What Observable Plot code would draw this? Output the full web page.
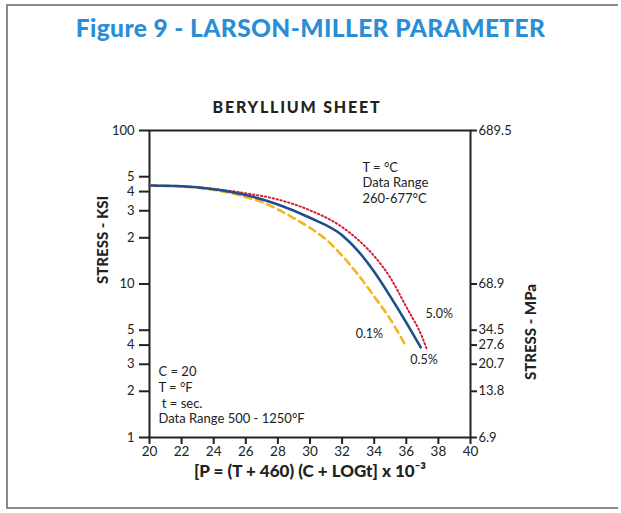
<!DOCTYPE html>
<html>
<head>
<meta charset="utf-8">
<script src="https://cdn.jsdelivr.net/npm/d3@7"></script>
<script src="https://cdn.jsdelivr.net/npm/@observablehq/plot@0.6"></script>
<style>
  body { margin: 0; background: #fff; }
  #wrap { position: relative; width: 621px; height: 513px; overflow: hidden; background: #fff; font-family: Lato, "Open Sans", sans-serif; }
  #border { position: absolute; left: 6px; top: 4px; width: 612px; height: 505px; border: 2px solid #8a8a8a; border-right: none; box-sizing: border-box; }
  #title { position: absolute; left: 0; width: 621px; top: 13px; text-align: center; color: #2a8ed6; font-weight: 900; font-size: 24.5px; letter-spacing: 0.4px; }
  #subtitle { position: absolute; left: 0; width: 594px; top: 97px; text-align: center; color: #222; font-weight: 900; font-size: 16px; letter-spacing: 1.8px; }
  #chart { position: absolute; left: 0; top: 0; }
</style>
</head>
<body>
<div id="wrap">
  <div id="border"></div>
  <div id="title">Figure 9 - LARSON-MILLER PARAMETER</div>
  <div id="subtitle">BERYLLIUM SHEET</div>
  <div id="chart"></div>
</div>
<script>
// Larson-Miller parameter P (x 10^-3) and stress (ksi)
const p01 = [20, 22, 24, 25, 26, 27, 28, 29, 30, 31, 32, 33, 34, 35, 35.95];
const s01 = [43.8, 43.2, 41.0, 39.3, 36.8, 34.2, 30.6, 26.8, 23.2, 19.5, 15.3, 11.5, 8.3, 5.9, 3.98];

const p05 = [20, 22, 24, 26, 28, 30, 32, 33, 34, 35, 36, 36.9];
const s05 = [43.8, 43.3, 41.4, 38.0, 33.0, 27.0, 20.8, 16.4, 12.0, 8.3, 5.6, 3.86];

const p50 = [20, 22, 24, 26, 28, 30, 32, 33, 34, 35, 36, 37, 37.3];
const s50 = [43.8, 43.3, 41.7, 39.0, 35.5, 30.2, 23.5, 19.4, 15.2, 11.0, 7.1, 4.48, 3.7];

const xTicks = [20, 22, 24, 26, 28, 30, 32, 34, 36, 38, 40];
const ksiTicks = [1, 2, 3, 4, 5, 10, 20, 30, 40, 50, 100];
const ksiLabels = ["1", "2", "3", "4", "5", "10", "2", "3", "4", "5", "100"];
const mpaTicks = [1, 2, 3, 4, 5, 10, 100];
const mpaLabels = ["6.9", "13.8", "20.7", "27.6", "34.5", "68.9", "689.5"];

const noteC = "T = °C\nData Range\n260-677°C";
const noteF = "C = 20\nT = °F\n t = sec.\nData Range 500 - 1250°F";
const curveLabels = ["5.0%", "0.1%", "0.5%"];

const series = (p, s) => p.map((v, i) => ({p: v, s: s[i]}));
const d01 = series(p01, s01), d05 = series(p05, s05), d50 = series(p50, s50);

const ink = "#222";
const font = "Lato, 'Open Sans', sans-serif";

const chart = Plot.plot({
  width: 621,
  height: 513,
  marginLeft: 149,
  marginRight: 151,
  marginTop: 130,
  marginBottom: 76,
  style: {background: "transparent", fontFamily: font, fontSize: "12px", color: ink, overflow: "visible"},
  x: {domain: [20, 40]},
  y: {type: "log", domain: [1, 100]},
  marks: [
    Plot.axisX({ticks: xTicks, tickSize: 7, tickPadding: 2, strokeWidth: 2, label: null, fontSize: 13.5, tickFormat: d => String(d)}),
    Plot.axisY({anchor: "left", ticks: ksiTicks, tickSize: 10, tickPadding: 5, strokeWidth: 2, label: null, fontSize: 13,
      tickFormat: d => ksiLabels[ksiTicks.indexOf(d)]}),
    Plot.axisY({anchor: "right", ticks: mpaTicks, tickSize: 6, tickPadding: 2, strokeWidth: 2, label: null, fontSize: 13,
      tickFormat: d => mpaLabels[mpaTicks.indexOf(d)]}),
    Plot.frame({stroke: ink, strokeWidth: 2}),
    Plot.line(d01, {x: "p", y: "s", stroke: "#f6b41e", strokeWidth: 2.6, strokeDasharray: "7,5", curve: "monotone-x"}),
    Plot.line(d50, {x: "p", y: "s", stroke: "#d2203a", strokeWidth: 2, strokeDasharray: "1.4,2.6", curve: "monotone-x"}),
    Plot.line(d05, {x: "p", y: "s", stroke: "#1d4f8c", strokeWidth: 2.6, curve: "monotone-x"}),
    Plot.text([noteC], {x: 33.27, y: 64, text: d => d, textAnchor: "start", lineAnchor: "top", lineHeight: 1.22, fontSize: 13, fill: ink}),
    Plot.text([noteF], {x: 20.56, y: 2.95, text: d => d, textAnchor: "start", lineAnchor: "top", lineHeight: 1.2, fontSize: 13, fill: ink}),
    Plot.text([curveLabels[0]], {x: 37.2, y: 6.33, text: d => d, textAnchor: "start", fontSize: 12.5, fill: ink}),
    Plot.text([curveLabels[1]], {x: 33.7, y: 4.69, text: d => d, fontSize: 12.5, fill: ink}),
    Plot.text([curveLabels[2]], {x: 37.1, y: 3.22, text: d => d, fontSize: 12.5, fill: ink}),
    Plot.text(["STRESS - KSI"], {frameAnchor: "left", dx: -46, rotate: -90, text: d => d, fontSize: 15, fontWeight: 900, fill: ink, style: {letterSpacing: "1px"}}),
    Plot.text(["STRESS - MPa"], {frameAnchor: "right", dx: 61, rotate: -90, text: d => d, fontSize: 15, fontWeight: 900, fill: ink}),
    Plot.text(["[P = (T + 460) (C + LOGt] x 10⁻³"], {frameAnchor: "bottom", dy: 39, text: d => d, fontSize: 17, fontWeight: 900, fill: ink})
  ]
});
document.getElementById("chart").appendChild(chart);
</script>
</body>
</html>
